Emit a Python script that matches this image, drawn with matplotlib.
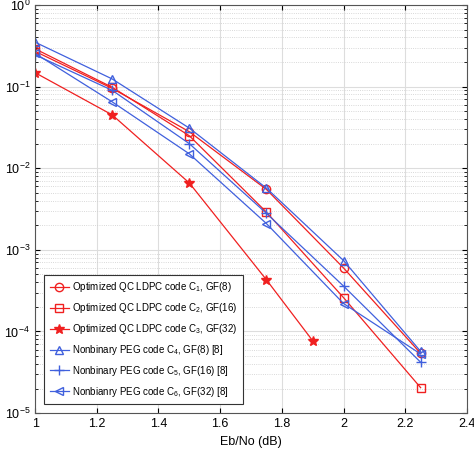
import matplotlib
matplotlib.use("Agg")
import matplotlib.pyplot as plt
from matplotlib.ticker import LogLocator, NullFormatter

fam = 'Liberation Sans'
plt.rcParams['font.family'] = [fam, 'DejaVu Sans']
plt.rcParams['mathtext.fontset'] = 'custom'
plt.rcParams['mathtext.rm'] = fam
plt.rcParams['mathtext.it'] = fam

ebno_a = [1.0, 1.25, 1.5, 1.75, 2.0, 2.25]
ebno_star = [1.0, 1.25, 1.5, 1.75, 1.9]

fer_c1 = [0.27, 0.095, 0.028, 0.0055, 0.0006, 5.4e-5]
fer_c2 = [0.29, 0.098, 0.025, 0.0029, 0.00026, 2.05e-5]
fer_c3 = [0.148, 0.045, 0.0066, 0.00043, 7.7e-5]
fer_c4 = [0.35, 0.124, 0.031, 0.0057, 0.00074, 5.7e-5]
fer_c5 = [0.245, 0.09, 0.02, 0.0028, 0.00036, 4.2e-5]
fer_c6 = [0.255, 0.065, 0.015, 0.0021, 0.00022, 5.3e-5]

labels = [
    r'Optimized QC LDPC code C$_1$, GF(8)',
    r'Optimized QC LDPC code C$_2$, GF(16)',
    r'Optimized QC LDPC code C$_3$, GF(32)',
    r'Nonbinary PEG code C$_4$, GF(8) [8]',
    r'Nonbinary PEG code C$_5$, GF(16) [8]',
    r'Nonbianry PEG code C$_6$, GF(32) [8]',
]

red = '#f02020'
blue = '#4060dd'

fig = plt.figure(figsize=(4.74, 4.50), dpi=100)
ax = fig.add_axes([0.074, 0.082, 0.911, 0.907])

lw = 0.9
ms = 6
ax.plot(ebno_a, fer_c1, '-o', color=red, mfc='none', lw=lw, ms=ms, label=labels[0])
ax.plot(ebno_a, fer_c2, '-s', color=red, mfc='none', lw=lw, ms=5.5, label=labels[1])
ax.plot(ebno_star, fer_c3, '-*', color=red, lw=lw, ms=7, label=labels[2])
ax.plot(ebno_a, fer_c4, '-^', color=blue, mfc='none', lw=lw, ms=ms, label=labels[3])
ax.plot(ebno_a, fer_c5, '-+', color=blue, lw=lw, ms=7, label=labels[4])
ax.plot(ebno_a, fer_c6, '-<', color=blue, mfc='none', lw=lw, ms=ms, label=labels[5])

ax.set_yscale('log')
ax.set_xlim(1, 2.4)
ax.set_ylim(1e-5, 1)
ax.set_xticks([1, 1.2, 1.4, 1.6, 1.8, 2, 2.2, 2.4])
ax.set_xticklabels(['1', '1.2', '1.4', '1.6', '1.8', '2', '2.2', '2.4'])
ax.yaxis.set_major_locator(LogLocator(base=10, numticks=10))
ax.yaxis.set_minor_locator(LogLocator(base=10, subs=range(2, 10), numticks=20))
ax.yaxis.set_minor_formatter(NullFormatter())

ax.grid(True, which='major', color='#dddddd', lw=0.8, ls='-')
ax.grid(True, which='minor', axis='y', color='#cccccc', lw=0.6, ls=':')
ax.set_axisbelow(True)
ax.tick_params(direction='in', which='both', top=True, right=True, labelsize=9)
ax.tick_params(which='minor', length=2)
for s in ax.spines.values():
    s.set_color('#555555')
    s.set_linewidth(0.8)

ax.set_xlabel('Eb/No (dB)', fontsize=9, labelpad=4)
ax.set_ylabel('FER', fontsize=10, labelpad=2)

leg = ax.legend(loc='lower left', fontsize=7.0, frameon=True, fancybox=False,
                edgecolor='#333333', framealpha=1, handlelength=2.0,
                borderaxespad=0.9, labelspacing=0.7, handletextpad=0.25,
                borderpad=0.6)
leg.get_frame().set_linewidth(0.8)

fig.savefig('out.png', dpi=100)
